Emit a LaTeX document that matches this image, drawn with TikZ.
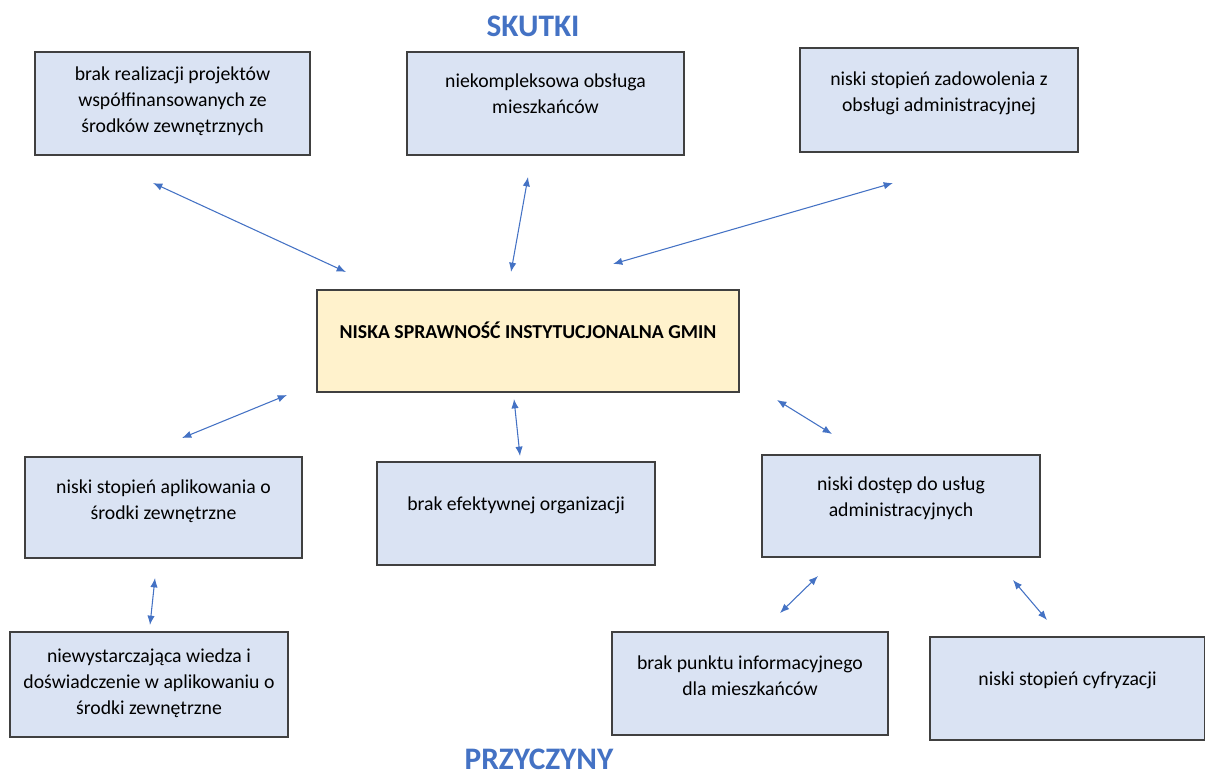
\documentclass[tikz,border=0pt]{standalone}
\usepackage{fontspec}
\setmainfont{Carlito}
\usetikzlibrary{arrows.meta}
\definecolor{boxblue}{HTML}{DAE3F3}
\definecolor{boxyellow}{HTML}{FFF2CC}
\definecolor{arrowblue}{HTML}{4472C4}
\definecolor{titleblue}{HTML}{4472C4}
\newcommand\boxtxt[4]{\begin{minipage}[c][\dimexpr #2pt*3/4\relax][t]{\dimexpr #1pt*3/4\relax}\centering\fontsize{14.8}{19.5}\selectfont\vspace*{\dimexpr #3pt*3/4-13.65pt\relax}\strut #4\end{minipage}}
\tikzset{
  box/.style={draw=black!75, line width=1.1pt, fill=boxblue, inner sep=0pt, outer sep=0pt},
  mainbox/.style={box, fill=boxyellow},
  link/.style={arrowblue, line width=0.8pt, {Latex[length=7pt,width=5.5pt]}-{Latex[length=7pt,width=5.5pt]}},
  title/.style={text=titleblue, font=\fontsize{23.5}{28}\selectfont\bfseries, inner sep=0pt}
}
\begin{document}
\begin{tikzpicture}[x=0.75pt,y=-0.75pt]
\useasboundingbox (0,0) rectangle (1205,776);
% titles
\node[title] (skutki) at (533,26) {SKUTKI};
\node[title] (przyczyny) at (539,759) {PRZYCZYNY};
% effect boxes
\node[box] (b1) at (172.5,103.5) {\boxtxt{275}{103}{28}{brak realizacji projektów\\ współfinansowanych ze\\ środków zewnętrznych}};
\node[box] (b2) at (545.5,103.5) {\boxtxt{277}{103}{35}{niekompleksowa obsługa\\ mieszkańców}};
\node[box] (b3) at (939,100) {\boxtxt{278}{104}{37}{niski stopień zadowolenia z\\ obsługi administracyjnej}};
% central problem
\node[mainbox] (c) at (528,341) {\boxtxt{422}{102}{48}{\bfseries NISKA SPRAWNOŚĆ INSTYTUCJONALNA GMIN}};
% cause boxes
\node[box] (d1) at (163.5,507.5) {\boxtxt{277}{101}{36}{niski stopień aplikowania o\\ środki zewnętrzne}};
\node[box] (d2) at (516,513.5) {\boxtxt{278}{103}{48}{brak efektywnej organizacji}};
\node[box] (d3) at (901,506) {\boxtxt{278}{102}{35}{niski dostęp do usług\\ administracyjnych}};
\node[box] (e1) at (149,684.5) {\boxtxt{278}{105}{30}{niewystarczająca wiedza i\\ doświadczenie w aplikowaniu o\\ środki zewnętrzne}};
\node[box] (e2) at (750,683.5) {\boxtxt{276}{103}{37}{brak punktu informacyjnego\\ dla mieszkańców}};
\node[box] (e3) at (1067.5,688.5) {\boxtxt{275}{103}{48}{niski stopień cyfryzacji}};
% arrow end points
\coordinate (p1a) at (153,183); \coordinate (p1b) at (346,272);
\coordinate (p2a) at (528,177); \coordinate (p2b) at (511,272);
\coordinate (p3a) at (893,183); \coordinate (p3b) at (613,264);
\coordinate (p4a) at (287,395); \coordinate (p4b) at (182,438);
\coordinate (p5a) at (514,399); \coordinate (p5b) at (520,456);
\coordinate (p6a) at (777,400); \coordinate (p6b) at (832,434);
\coordinate (p7a) at (155,578); \coordinate (p7b) at (150,625);
\coordinate (p8a) at (818,576); \coordinate (p8b) at (780,613);
\coordinate (p9a) at (1013,580); \coordinate (p9b) at (1047,620);
\draw[link] (p1a) -- (p1b);
\draw[link] (p2a) -- (p2b);
\draw[link] (p3a) -- (p3b);
\draw[link] (p4a) -- (p4b);
\draw[link] (p5a) -- (p5b);
\draw[link] (p6a) -- (p6b);
\draw[link] (p7a) -- (p7b);
\draw[link] (p8a) -- (p8b);
\draw[link] (p9a) -- (p9b);
\end{tikzpicture}
\end{document}
